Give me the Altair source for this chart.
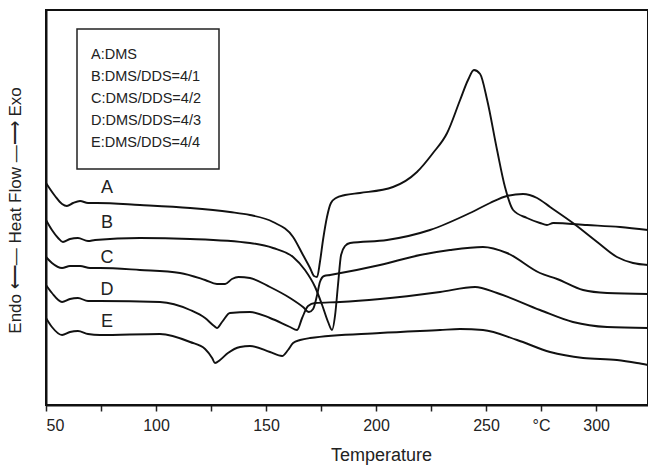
import altair as alt
import pandas as pd

# ---- data (temperature in degC, heat flow in arbitrary units) ----
T_A = [50, 54.1, 57.3, 59.5, 62.3, 65.5, 69.1, 73.2, 92.7, 115.5, 133.6, 142.7, 153.2, 162.3,
       166.8, 170, 171.8, 173.2, 174.5, 175.9, 177.7, 179.5, 181.8, 185.9, 192.7, 207.7, 218.6,
       225.9, 232.3, 238.2, 241.8, 244.5, 247.3, 250.5, 255, 258.6, 262.3, 268.6, 274.5, 277.7,
       280.5, 295.9, 310.9, 323.6]
H_A = [222, 209, 201, 199, 202, 204, 202, 202, 200, 197, 193, 190, 183, 168,
       150, 137, 129, 128, 143, 165, 188, 202, 207, 210, 212, 218, 233,
       252, 272, 305, 325, 335, 331, 305, 255, 218, 195, 187, 182, 180,
       182, 180, 178, 175]

T_B = [50, 52.7, 55.5, 57.7, 60.9, 64.5, 69.1, 72.3, 92.7, 115.5, 142.7, 153.2, 162.3, 167.7,
       172.3, 175.5, 178.2, 180, 181.4, 182.7, 184.1, 185.9, 188.2, 205, 224.5, 242.7, 251.8,
       259.5, 266.8, 273.2, 279.1, 289.5, 300.5, 309.5, 316.8, 323.6]
H_B = [185, 175, 167, 163, 166, 167, 164, 165, 167, 166, 162, 157, 148, 135,
       118, 100, 83, 75, 90, 120, 150, 159, 162, 165, 175, 192, 202,
       209, 211, 207, 198, 182, 163, 148, 142, 140]

T_C = [50, 52.7, 57.3, 60.9, 65.5, 70, 74.5, 92.7, 110.9, 122.3, 127.7, 131.4, 134.5, 137.5,
       142.7, 151.8, 160.9, 166.8, 169.5, 171.4, 173.2, 174.5, 176.4, 179.1, 201.8, 220, 233.6,
       248.6, 259.5, 274.5, 282.3, 294.1, 305, 323.6]
H_C = [148, 142, 137, 139, 139, 137, 137, 135, 132, 125, 121, 121, 126, 128,
       127, 118, 107, 98, 93, 96, 110, 123, 129, 130, 140, 150, 155,
       158, 152, 132, 126, 115, 112, 111]

T_D = [50, 52.7, 57.3, 60.9, 64.5, 69.1, 74.5, 101.8, 115.5, 122.3, 126.4, 127.7, 130, 133.6,
       142.7, 151.8, 160.9, 164.1, 166.4, 169.1, 172.3, 183.6, 201.8, 229.1, 245, 255, 274.5,
       289.5, 305, 323.6]
H_D = [120, 112, 103, 106, 107, 104, 104, 103, 95, 87, 79, 77, 83, 92,
       93, 87, 78, 75, 87, 99, 102, 103, 106, 113, 118, 112, 95,
       83, 78, 77]

T_E = [50, 52.7, 57.3, 60.9, 64.5, 69.1, 74.5, 101.8, 115.5, 122.3, 125.5, 126.8, 129.1, 132.7,
       138.2, 142.7, 151.8, 157.3, 160, 162.3, 165.5, 170, 201.8, 229.1, 238.2, 248.6, 264.1,
       279.1, 294.1, 309.5, 318.6, 323.6]
H_E = [87, 78, 70, 73, 74, 71, 70, 71, 63, 56, 47, 42, 45, 52,
       58, 59, 53, 49, 55, 62, 65, 67, 72, 75, 76, 75, 65,
       53, 47, 45, 42, 40]

series_names = ["A", "B", "C", "D", "E"]
legend_lines = ["A:DMS", "B:DMS/DDS=4/1", "C:DMS/DDS=4/2", "D:DMS/DDS=4/3", "E:DMS/DDS=4/4"]
x_ticks = [50, 75, 100, 125, 150, 175, 200, 225, 250, 275, 300]

rows = []
for name, ts, hs in zip(series_names, [T_A, T_B, T_C, T_D, T_E], [H_A, H_B, H_C, H_D, H_E]):
    for i, (t, h) in enumerate(zip(ts, hs)):
        rows.append({"series": name, "T": t, "H": h, "i": i})
df = pd.DataFrame(rows)

FONT = "Liberation Sans"

xs = alt.X("T:Q", scale=alt.Scale(domain=[50, 323.6], nice=False, zero=False),
           axis=alt.Axis(values=x_ticks, grid=False, title="Temperature",
                         labelExpr="datum.value == 275 ? '°C' : (datum.value % 50 == 0 ? datum.label : '')",
                         labelFont=FONT, labelFontSize=16, labelColor="#222",
                         tickSize=6, tickWidth=1.5, tickColor="#222", labelPadding=6,
                         domainColor="#111", domainWidth=2,
                         titleFont=FONT, titleFontSize=18, titleFontWeight="normal", titleColor="#222",
                         titleX=335, titleY=55, titleBaseline="alphabetic"))
ys = alt.Y("H:Q", scale=alt.Scale(domain=[0, 395], nice=False, zero=False),
           axis=alt.Axis(labels=False, ticks=False, grid=False,
                         title="Endo ⟵— Heat Flow —⟶ Exo",
                         domainColor="#111", domainWidth=2,
                         titleFont=FONT, titleFontSize=17, titleFontWeight="normal", titleColor="#222",
                         titleX=-31, titleY=200, titleAngle=270, titleBaseline="middle", titleAlign="center"))

lines = alt.Chart(df).mark_line(color="#111", strokeWidth=1.9, interpolate="monotone").encode(
    x=xs, y=ys, detail="series:N", order="i:Q")

layers = [lines]

# legend box
layers.append(alt.Chart(pd.DataFrame({"k": [0]})).mark_rect(
    fill="white", stroke="#222", strokeWidth=1.5).encode(
    x=alt.value(31), x2=alt.value(173), y=alt.value(19), y2=alt.value(159)))
for j, txt in enumerate(legend_lines):
    layers.append(alt.Chart(pd.DataFrame({"t": [txt]})).mark_text(
        align="left", baseline="middle", font=FONT, fontSize=14.5, color="#222").encode(
        text="t:N", x=alt.value(45), y=alt.value(45 + 22 * j)))

# curve labels
label_y = [178, 213, 248, 280, 312]
for name, yy in zip(series_names, label_y):
    layers.append(alt.Chart(pd.DataFrame({"t": [name]})).mark_text(
        align="center", baseline="middle", font=FONT, fontSize=18, color="#222").encode(
        text="t:N", x=alt.value(61), y=alt.value(yy)))

chart = alt.layer(*layers).properties(
    width=602, height=395,
    autosize=alt.AutoSizeParams(type="none"),
    padding={"left": 46, "top": 10, "right": 0, "bottom": 60},
    background="white",
).configure_view(stroke="#111", strokeWidth=2)

chart.save("out.html", embed_options={"renderer": "svg", "actions": False})
